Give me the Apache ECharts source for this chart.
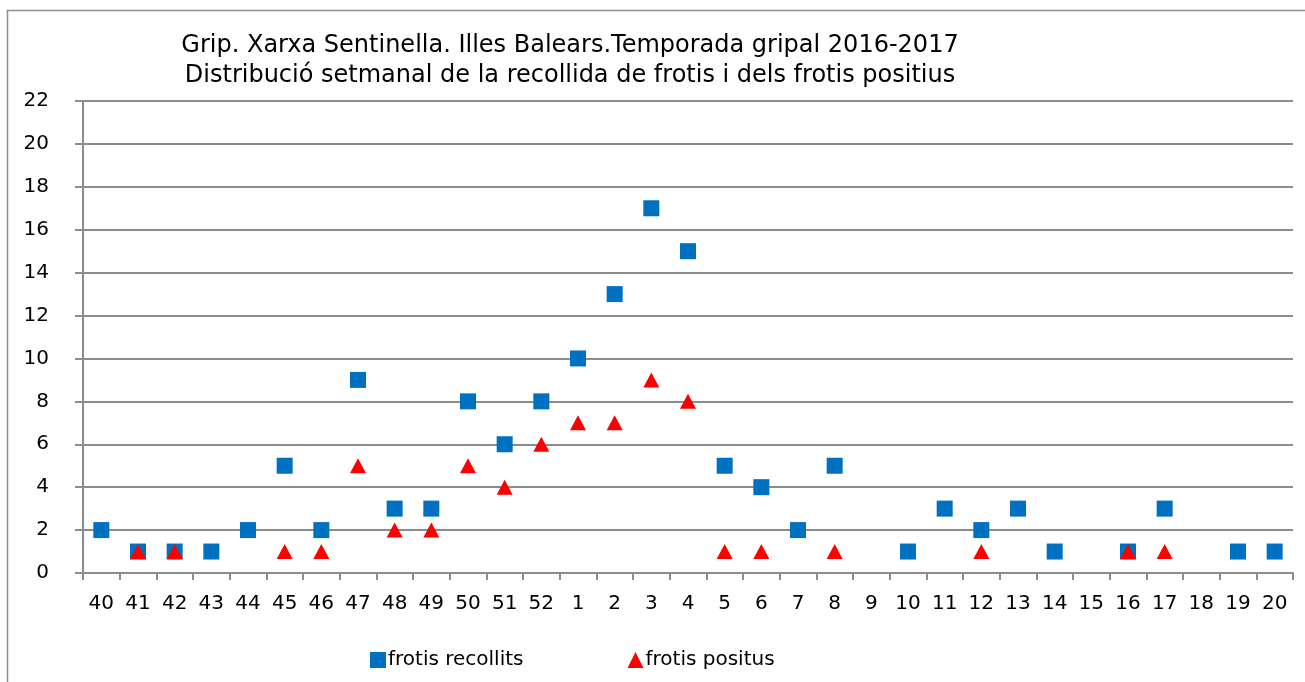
<!DOCTYPE html>
<html>
<head>
<meta charset="utf-8">
<script src="https://cdn.jsdelivr.net/npm/echarts@6/dist/echarts.min.js"></script>
<style>
  html, body { margin: 0; padding: 0; background: #fff; }
  #main { width: 1305px; height: 682px; }
</style>
</head>
<body>
<div id="main"></div>
<script>
  var weeks = ['40', '41', '42', '43', '44', '45', '46', '47', '48', '49', '50', '51', '52',
    '1', '2', '3', '4', '5', '6', '7', '8', '9', '10', '11', '12', '13', '14', '15', '16', '17', '18', '19', '20']
  // '-' = sense dada
  var recollits = [2, 1, 1, 1, 2, 5, 2, 9, 3, 3, 8, 6, 8,
    10, 13, 17, 15, 5, 4, 2, 5, '-', 1, 3, 2, 3, 1, '-', 1, 3, '-', 1, 1]
  var positius = ['-', 1, 1, '-', '-', 1, 1, 5, 2, 2, 5, 4, 6,
    7, 7, 9, 8, 1, 1, '-', 1, '-', '-', '-', 1, '-', '-', '-', 1, 1, '-', '-', '-']

  var myChart = echarts.init(document.getElementById('main'))
  var font = 'DejaVu Sans, Liberation Sans, sans-serif'

  var option = {
    backgroundColor: '#fff',
    animation: false,
    textStyle: { fontFamily: font },
    graphic: [{
      type: 'rect',
      shape: { x: 7.5, y: 10.5, width: 1320, height: 700 },
      style: { fill: 'none', stroke: '#8c8c8c', lineWidth: 1.5 },
      z: -1
    }],
    title: {
      text: 'Grip. Xarxa Sentinella. Illes Balears.Temporada gripal 2016-2017\nDistribució setmanal de la recollida de frotis i dels frotis positius',
      left: 565,
      top: 26,
      textAlign: 'center',
      textStyle: { fontFamily: font, fontSize: 24, fontWeight: 'normal', color: '#000', lineHeight: 30 }
    },
    legend: {
      left: 365,
      top: 645,
      itemGap: 104,
      itemWidth: 16,
      itemHeight: 16,
      textStyle: { fontFamily: font, fontSize: 20, color: '#000', padding: [0, 0, 0, -3] },
      data: [
        { name: 'frotis recollits', icon: 'rect' },
        { name: 'frotis positus', icon: 'triangle' }
      ]
    },
    grid: { left: 83, right: 12, top: 101, bottom: 109 },
    xAxis: {
      type: 'category',
      data: weeks,
      boundaryGap: true,
      axisLine: { lineStyle: { color: '#8c8c8c', width: 2 } },
      axisTick: { show: true, length: 7, lineStyle: { color: '#8c8c8c', width: 2 } },
      axisLabel: { color: '#000', fontSize: 20, margin: 21, interval: 0, fontFamily: font },
      splitLine: { show: false }
    },
    yAxis: {
      type: 'value',
      min: 0,
      max: 22,
      interval: 2,
      axisLine: { show: true, lineStyle: { color: '#8c8c8c', width: 2 } },
      axisTick: { show: true, length: 8, lineStyle: { color: '#8c8c8c', width: 2 } },
      axisLabel: { color: '#000', fontSize: 20, margin: 34, fontFamily: font },
      splitLine: { lineStyle: { color: '#8c8c8c', width: 2 } }
    },
    series: [
      {
        name: 'frotis recollits',
        type: 'scatter',
        data: recollits,
        symbol: 'rect',
        symbolSize: 16,
        itemStyle: { color: '#0070c0', opacity: 1 }
      },
      {
        name: 'frotis positus',
        type: 'scatter',
        data: positius,
        symbol: 'triangle',
        symbolSize: [16, 15],
        itemStyle: { color: '#ff0000', opacity: 1 }
      }
    ]
  }
  myChart.setOption(option)
</script>
</body>
</html>
